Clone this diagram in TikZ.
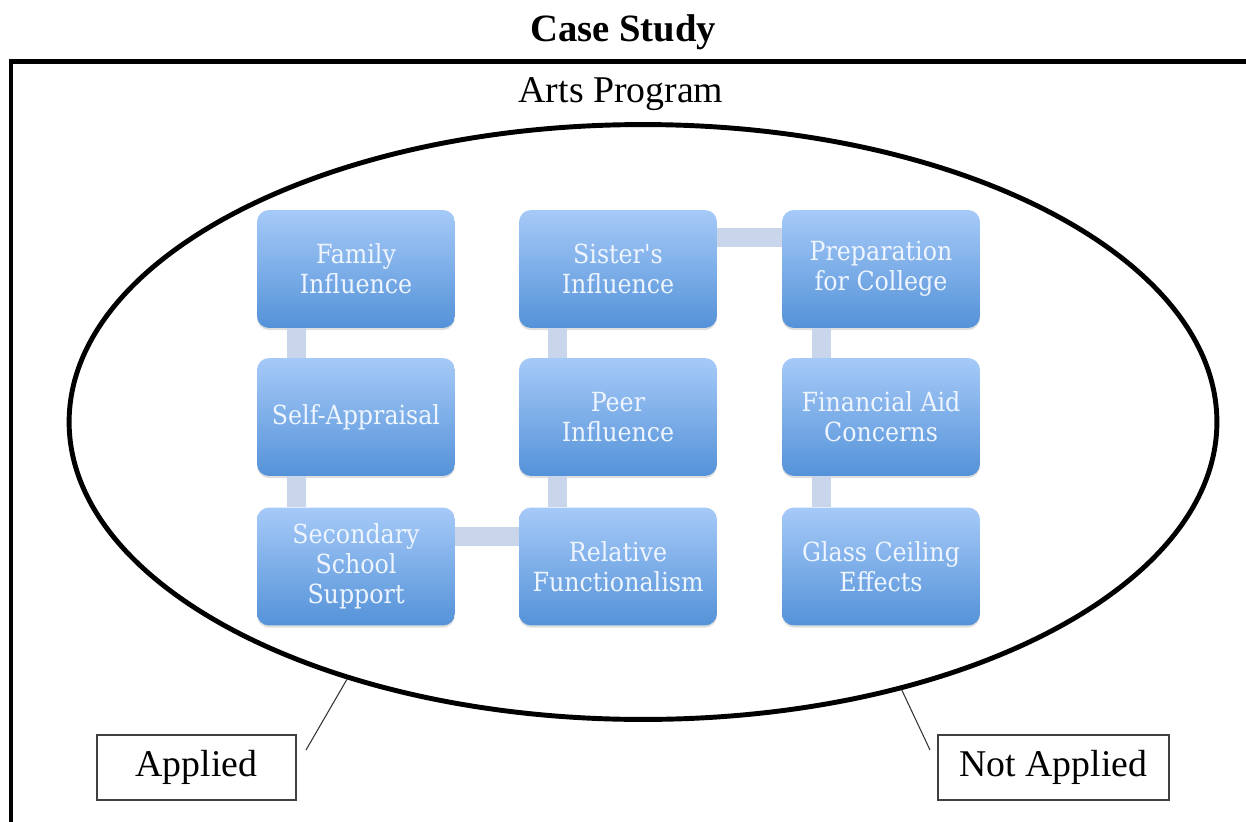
\documentclass[tikz,border=0pt]{standalone}
\usepackage{fontspec}
\setmainfont{Liberation Serif}
\newfontfamily\boxfamily{DejaVu Serif Condensed}
\usetikzlibrary{shapes.geometric,calc,shadows}
\definecolor{boxtop}{RGB}{166,202,248}
\definecolor{boxbot}{RGB}{84,146,216}
\definecolor{boxtext}{RGB}{238,245,255}
\definecolor{connc}{RGB}{200,213,234}
\tikzset{
  cbox/.style={rounded corners=0.24cm, top color=boxtop, bottom color=boxbot,
    minimum width=3.96cm, minimum height=2.36cm, inner sep=0pt, align=center,
    text=boxtext, font=\boxfamily\fontsize{15}{17}\selectfont,
    drop shadow={opacity=0.25, shadow xshift=0pt, shadow yshift=-1.2pt}},
  conn/.style={line width=0.38cm, draw=connc},
  label/.style={draw=black!75, line width=0.7pt, fill=white, inner sep=0pt,
    minimum height=1.3cm, font=\fontsize{21.5}{24}\selectfont},
  thinline/.style={draw=black!80, line width=0.6pt}
}
\begin{document}
\begin{tikzpicture}[x=0.02cm,y=-0.02cm]
\useasboundingbox (0,0) rectangle (1246,821);
% title and frame
\node[anchor=base, font=\bfseries\fontsize{22}{26}\selectfont] (title) at (623,42) {Case Study};
\coordinate (ftl) at (11,61.5);
\coordinate (ftr) at (1246,61.5);
\coordinate (fbl) at (11,821);
\draw[line width=2.4pt, line cap=rect] (ftr) -- (ftl) -- (fbl);
\node[anchor=base, font=\fontsize{21.5}{24}\selectfont] (arts) at (621,102) {Arts Program};
% ellipse
\node[draw, ellipse, line width=2.8pt, minimum width=22.96cm, minimum height=11.9cm, inner sep=0pt] (ell) at (643,422) {};
% boxes
\node[cbox] (fam) at (356,269) {Family\\Influence};
\node[cbox] (self) at (356,417) {Self-Appraisal};
\node[cbox] (sec) at (356,566.5) {Secondary\\School\\Support};
\node[cbox] (sis) at (618,269) {Sister's\\Influence};
\node[cbox] (peer) at (618,417) {Peer\\Influence};
\node[cbox] (rel) at (618,566.5) {Relative\\Functionalism};
\node[cbox] (prep) at (881,269) {Preparation\\for College};
\node[cbox] (fin) at (881,417) {Financial Aid\\Concerns};
\node[cbox] (glass) at (881,566.5) {Glass Ceiling\\Effects};
% connectors
\draw[conn] ($(fam.south west)+(40,0)$) -- ($(self.north west)+(40,0)$);
\draw[conn] ($(self.south west)+(40,0)$) -- ($(sec.north west)+(40,0)$);
\draw[conn] ($(sec.north east)+(0,29)$) -- ($(rel.north west)+(0,29)$);
\draw[conn] ($(rel.north west)+(39,0)$) -- ($(peer.south west)+(39,0)$);
\draw[conn] ($(peer.north west)+(39,0)$) -- ($(sis.south west)+(39,0)$);
\draw[conn] ($(sis.north east)+(0,28)$) -- ($(prep.north west)+(0,28)$);
\draw[conn] ($(prep.south west)+(40,0)$) -- ($(fin.north west)+(40,0)$);
\draw[conn] ($(fin.south west)+(40,0)$) -- ($(glass.north west)+(40,0)$);
% labels
\node[label, minimum width=3.98cm] (app) at (196.5,767.5) {Applied};
\node[label, minimum width=4.62cm] (napp) at (1053.5,767.5) {Not Applied};
\coordinate (append) at (306,750);
\coordinate (nappend) at (930,750);
\draw[thinline] (ell.221) -- (append);
\draw[thinline] (ell.314) -- (nappend);
\end{tikzpicture}
\end{document}
